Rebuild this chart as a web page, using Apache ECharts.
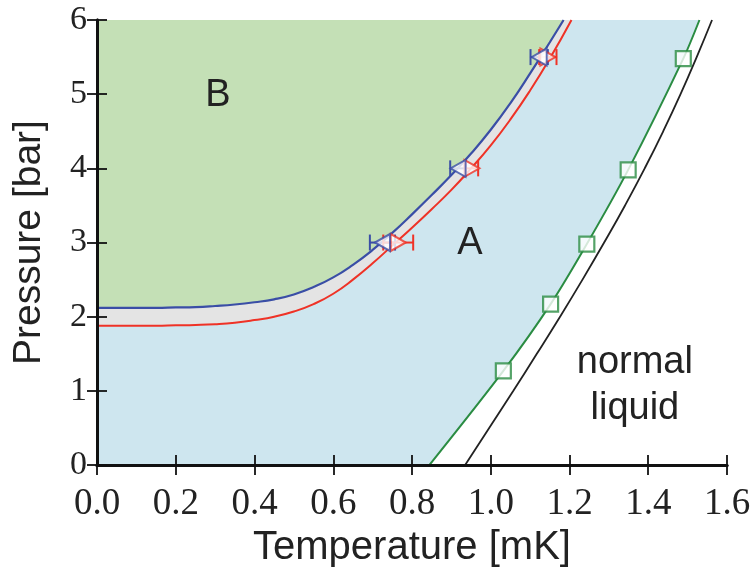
<!DOCTYPE html>
<html>
<head>
<meta charset="utf-8">
<script src="https://cdn.jsdelivr.net/npm/echarts@6/dist/echarts.min.js"></script>
<style>
html,body{margin:0;padding:0;background:#fff;}
#chart{width:754px;height:573px;}
</style>
</head>
<body>
<div id="chart"></div>
<script>
// Axis ranges
const xMin = 0, xMax = 1.6, xStep = 0.2;
const yMin = 0, yMax = 6, yStep = 1;

// Blue curve (upper transition line)
const blueT = [0.00, 0.05, 0.10, 0.15, 0.20, 0.25, 0.30, 0.35, 0.40, 0.45, 0.50, 0.55, 0.60, 0.65, 0.70, 0.75, 0.80, 0.85, 0.90, 0.95, 1.00, 1.05, 1.10, 1.15, 1.185];
const blueP = [2.12, 2.12, 2.12, 2.12, 2.125, 2.13, 2.145, 2.165, 2.195, 2.235, 2.30, 2.40, 2.53, 2.70, 2.90, 3.13, 3.38, 3.64, 3.91, 4.20, 4.52, 4.88, 5.28, 5.70, 6.00];

// Red curve (lower transition line)
const redT = [0.00, 0.05, 0.10, 0.15, 0.20, 0.25, 0.30, 0.35, 0.40, 0.45, 0.50, 0.55, 0.60, 0.65, 0.70, 0.75, 0.80, 0.85, 0.90, 0.95, 1.00, 1.05, 1.10, 1.15, 1.205];
const redP = [1.88, 1.88, 1.88, 1.88, 1.885, 1.89, 1.90, 1.92, 1.955, 2.00, 2.07, 2.17, 2.31, 2.50, 2.72, 2.96, 3.20, 3.45, 3.71, 4.00, 4.31, 4.66, 5.05, 5.48, 6.00];

// Green line with squares
const greenT = [0.844, 1.032, 1.152, 1.244, 1.349, 1.489, 1.53];
const greenP = [0.00, 1.27, 2.17, 2.98, 3.98, 5.48, 6.00];
const squareT = [1.032, 1.152, 1.244, 1.349, 1.489];
const squareP = [1.27, 2.17, 2.98, 3.98, 5.48];

// Black line (normal-liquid boundary)
const blackT = [0.935, 0.996, 1.057, 1.117, 1.176, 1.233, 1.288, 1.341, 1.391, 1.438, 1.482, 1.523, 1.562];
const blackP = [0.00, 0.50, 1.00, 1.50, 2.00, 2.50, 3.00, 3.50, 4.00, 4.50, 5.00, 5.50, 6.00];

// Triangle markers with horizontal error bars
const blueMarkT = [0.725, 0.917, 1.123];
const blueMarkP = [3.0, 4.0, 5.5];
const blueMarkErr = [0.032, 0.02, 0.022];
const redMarkT = [0.765, 0.952, 1.145];
const redMarkP = [3.0, 4.0, 5.5];
const redMarkErr = [0.038, 0.016, 0.022];

// Region labels
const labelText = ['B', 'A', 'normal\nliquid'];
const labelT = [0.307, 0.947, 1.366];
const labelP = [4.98, 2.99, 1.07];

const zip = (a, b) => a.map((v, i) => [v, b[i]]);

const C = {
  blueLine: '#3a4ea6', redLine: '#ef3226', greenLine: '#2a8c42', black: '#222222',
  fillB: '#c4e0b6', fillA: '#cee6ef', fillGap: '#e4e4e4', text: '#222222'
};

function errSeries(T, P, E, color, z) {
  return {
    type: 'custom', z: z,
    data: T.map((t, i) => [t - E[i], t + E[i], P[i]]),
    encode: { x: [0, 1], y: 2 },
    renderItem: function (params, api) {
      const a = api.coord([api.value(0), api.value(2)]);
      const b = api.coord([api.value(1), api.value(2)]);
      const st = { stroke: color, lineWidth: 2, fill: null };
      return {
        type: 'group',
        children: [
          { type: 'line', shape: { x1: a[0], y1: a[1], x2: b[0], y2: b[1] }, style: st },
          { type: 'line', shape: { x1: a[0], y1: a[1] - 8, x2: a[0], y2: a[1] + 8 }, style: st },
          { type: 'line', shape: { x1: b[0], y1: b[1] - 8, x2: b[0], y2: b[1] + 8 }, style: st }
        ]
      };
    }
  };
}

const chart = echarts.init(document.getElementById('chart'), null, { renderer: 'canvas' });

const tickStyle = { show: true, inside: true, length: 10, lineStyle: { color: '#111', width: 1.8 } };
const lineStyleAx = { show: true, lineStyle: { color: '#111', width: 3 } };

const option = {
  animation: false,
  backgroundColor: '#ffffff',
  grid: { left: 97, right: 27, top: 20, bottom: 105, containLabel: false },
  xAxis: [
    {
      type: 'value', min: xMin, max: xMax, interval: xStep, position: 'bottom', z: 10,
      name: 'Temperature [mK]', nameLocation: 'middle', nameGap: 58,
      nameTextStyle: { fontFamily: 'Liberation Sans', fontSize: 40, color: C.text },
      axisLine: lineStyleAx, axisTick: tickStyle, splitLine: { show: false },
      axisLabel: { fontFamily: 'Liberation Serif', fontSize: 37, color: '#222', margin: 21,
        formatter: v => v.toFixed(1) }
    },
    {
      type: 'value', min: xMin, max: xMax, interval: xStep, position: 'top', z: 10,
      axisLine: lineStyleAx, axisTick: tickStyle, splitLine: { show: false },
      axisLabel: { show: false }
    }
  ],
  yAxis: [
    {
      type: 'value', min: yMin, max: yMax, interval: yStep, position: 'left', z: 10,
      name: 'Pressure [bar]', nameLocation: 'middle', nameGap: 48, nameRotate: 90,
      nameTextStyle: { fontFamily: 'Liberation Sans', fontSize: 39, color: C.text },
      axisLine: lineStyleAx, axisTick: tickStyle, splitLine: { show: false },
      axisLabel: { fontFamily: 'Liberation Serif', fontSize: 34, color: '#222', margin: 10 }
    },
    {
      type: 'value', min: yMin, max: yMax, interval: yStep, position: 'right', z: 10,
      axisLine: lineStyleAx, axisTick: tickStyle, splitLine: { show: false },
      axisLabel: { show: false }
    }
  ],
  series: [
    // Light-blue A-phase region: left of green line
    {
      type: 'line', z: 1, symbol: 'none', silent: true,
      data: [[xMin, yMin]].concat(zip(greenT, greenP)),
      lineStyle: { width: 0, opacity: 0 },
      areaStyle: { color: C.fillA, opacity: 1, origin: 'end' }
    },
    // Gray band: above red curve
    {
      type: 'line', z: 1, symbol: 'none', silent: true, smooth: true,
      data: zip(redT, redP),
      lineStyle: { width: 0, opacity: 0 },
      areaStyle: { color: C.fillGap, opacity: 1, origin: 'end' }
    },
    // Green B-phase region: above blue curve
    {
      type: 'line', z: 1, symbol: 'none', silent: true, smooth: true,
      data: zip(blueT, blueP),
      lineStyle: { width: 0, opacity: 0 },
      areaStyle: { color: C.fillB, opacity: 1, origin: 'end' }
    },
    // Lines
    {
      type: 'line', z: 3, symbol: 'none', smooth: true,
      data: zip(redT, redP), lineStyle: { color: C.redLine, width: 2 }
    },
    {
      type: 'line', z: 3, symbol: 'none', smooth: true,
      data: zip(blueT, blueP), lineStyle: { color: C.blueLine, width: 2.2 }
    },
    {
      type: 'line', z: 3, symbol: 'none', smooth: 0.3,
      data: zip(greenT, greenP), lineStyle: { color: C.greenLine, width: 2 }
    },
    {
      type: 'line', z: 3, symbol: 'none', smooth: true,
      data: zip(blackT, blackP), lineStyle: { color: C.black, width: 1.8 }
    },
    // Error bars
    errSeries(blueMarkT, blueMarkP, blueMarkErr, C.blueLine, 4),
    errSeries(redMarkT, redMarkP, redMarkErr, C.redLine, 4),
    // Triangle markers
    {
      type: 'scatter', z: 5, symbol: 'triangle', symbolRotate: -90, symbolSize: [17, 15],
      data: zip(redMarkT, redMarkP),
      itemStyle: { color: '#ffffff', borderColor: C.redLine, borderWidth: 2 }
    },
    {
      type: 'scatter', z: 5, symbol: 'triangle', symbolRotate: 90, symbolSize: [17, 15],
      data: zip(blueMarkT, blueMarkP),
      itemStyle: { color: '#ffffff', borderColor: C.blueLine, borderWidth: 2 }
    },
    // Squares
    {
      type: 'scatter', z: 5, symbol: 'rect', symbolSize: 15,
      data: zip(squareT, squareP),
      itemStyle: { color: '#ffffff', borderColor: C.greenLine, borderWidth: 2.2 }
    },
    // Region labels
    {
      type: 'scatter', z: 6, symbolSize: 1, silent: true,
      itemStyle: { color: 'rgba(0,0,0,0)' },
      data: labelText.map((t, i) => ({ value: [labelT[i], labelP[i]], name: t })),
      label: {
        show: true, position: 'inside', formatter: p => p.name,
        fontFamily: 'Liberation Sans', fontSize: 38, color: C.text, opacity: 1,
        textBorderWidth: 0, lineHeight: 46, align: 'center'
      }
    }
  ]
};

chart.setOption(option);
</script>
</body>
</html>
